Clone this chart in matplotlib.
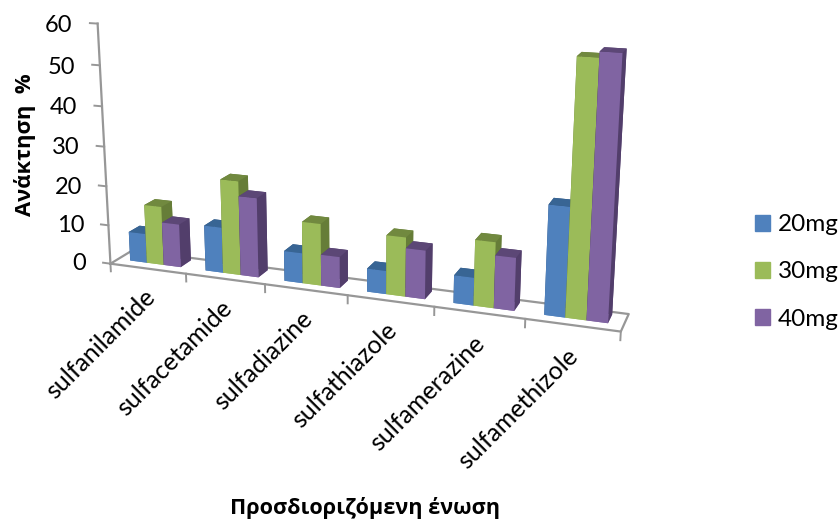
import matplotlib
matplotlib.use('Agg')
import matplotlib.pyplot as plt
from matplotlib.patches import Patch
from mpl_toolkits.mplot3d import proj3d

# Recovery per analyte and spiked amount
compounds = ['sulfanilamide', 'sulfacetamide', 'sulfadiazine',
             'sulfathiazole', 'sulfamerazine', 'sulfamethizole']
series_names = ['20mg', '30mg', '40mg']
recovery_20 = [7.5, 11.5, 7.5, 5.7, 6.7, 25.7]
recovery_30 = [15, 23.6, 15.3, 14.4, 15.7, 58.7]
recovery_40 = [11, 19.9, 7.7, 11.8, 12.6, 60]
recovery = [recovery_20, recovery_30, recovery_40]
y_ticks = [0, 10, 20, 30, 40, 50, 60]

# front, top and side shades of each series
front_colors = ['#4F81BD', '#9BBB59', '#8064A2']
top_colors = ['#386594', '#71893F', '#5C4776']
side_colors = ['#2F5582', '#667D38', '#523E6B']
axis_color = '#979797'

plt.rcParams['font.family'] = ['Lato', 'Open Sans', 'DejaVu Sans']

W, H = 839, 521
fig = plt.figure(figsize=(W / 100, H / 100), dpi=100)

# camera settings for the perspective view
ax = fig.add_axes([347.65 / W - 0.705 / 2, 1 - 172.70 / H - 0.705 * W / H / 2,
                   0.705, 0.705 * W / H], projection='3d', computed_zorder=False)
ax.view_init(15.2063, -69.601, 0.0537)
ax.set_proj_type('persp', focal_length=0.4056)
ax.set_box_aspect((1, 0.0856, 0.4764))
ax.set_xlim(0, 6)
ax.set_ylim(0, 1)
ax.set_zlim(0, 60)
ax.set_axis_off()
M = ax.get_proj()


def label_at(x, y, z, text, **kw):
    # place flat text at a projected 3D position
    px, py, _ = proj3d.proj_transform(x, y, z, M)
    ax.text2D(px, py, text, transform=ax.transData, color='black', clip_on=False, **kw)


n = len(compounds)

# floor outline
ax.plot([0, n, n, 0, 0], [0, 0, 1, 1, 0], [0, 0, 0, 0, 0],
        color=axis_color, lw=1.6, zorder=1)
# value axis and its ticks
ax.plot([0, 0], [0, 0], [0, y_ticks[-1]], color=axis_color, lw=1.6, zorder=1)
for t in y_ticks:
    ax.plot([-0.1, 0], [0, 0], [t, t], color=axis_color, lw=1.4, zorder=1)
    label_at(-0.33, 0, t - 0.9, str(t), ha='right', va='center', fontsize=17)
# category ticks
for k in range(n + 1):
    ax.plot([k, k], [0, 0], [0, -2], color=axis_color, lw=1.4, zorder=1)

# bars, painted left to right so neighbours overlap correctly
bar_w = 0.225
gap = 0.1625
depth_front = 0.35
depth_size = 0.5
order = 2
for k in range(n):
    for i in range(len(series_names)):
        faces = [front_colors[i], top_colors[i], front_colors[i],
                 side_colors[i], side_colors[i], side_colors[i]]
        ax.bar3d(k + gap + i * bar_w, depth_front, 0, bar_w, depth_size, recovery[i][k],
                 color=faces, shade=False, zorder=order, edgecolor='none')
        order += 1

# rotated category labels
for k, name in enumerate(compounds):
    label_at(k + 0.53, 0, -6.3, name, rotation=45, rotation_mode='anchor',
             ha='right', va='center', fontsize=18, zorder=50)

fig.text(25 / W, 1 - 145 / H, 'Ανάκτηση  %', rotation=90, ha='center', va='center',
         fontsize=15.8, fontweight='bold', family=['Open Sans', 'DejaVu Sans'])
fig.text(365 / W, 1 - 508 / H, 'Προσδιοριζόμενη ένωση', ha='center', va='center',
         fontsize=15.6, fontweight='bold', family=['Open Sans', 'DejaVu Sans'])

handles = [Patch(color=c, label=s) for c, s in zip(front_colors, series_names)]
fig.legend(handles=handles, loc='center left', bbox_to_anchor=(755 / W, 1 - 272 / H),
           frameon=False, fontsize=17.5, handlelength=0.62, handleheight=0.62,
           handletextpad=0.33, labelspacing=1.07, borderpad=0, borderaxespad=0)

fig.savefig('out.png', dpi=100)
